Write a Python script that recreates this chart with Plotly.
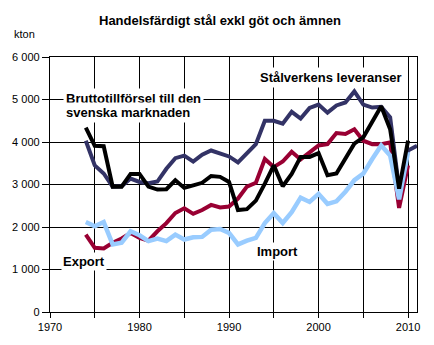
import plotly.graph_objects as go

years_lev = list(range(1974, 2012))
years = list(range(1974, 2011))

stalverkens = [4030, 3450, 3260, 2950, 2960, 3140, 3060, 3030, 3070, 3370,
               3620, 3680, 3540, 3700, 3800, 3730, 3660, 3520, 3740, 3950,
               4500, 4500, 4430, 4710, 4550, 4800, 4880, 4690, 4860, 4930,
               5190, 4880, 4810, 4830, 4580, 2900, 3800, 3910]
brutto = [4340, 3910, 3900, 2950, 2950, 3250, 3250, 2950, 2880, 2890,
          3100, 2920, 2980, 3040, 3200, 3180, 3060, 2400, 2420, 2620,
          3020, 3450, 2960, 3250, 3650, 3650, 3740, 3220, 3260, 3600,
          3960, 4110, 4460, 4840, 4300, 2900, 4030]
export = [1820, 1510, 1495, 1630, 1730, 1860, 1745, 1680, 1900, 2090,
          2330, 2440, 2310, 2400, 2520, 2460, 2480, 2670, 2950, 3040,
          3600, 3410, 3540, 3770, 3590, 3745, 3920, 3950, 4210, 4190,
          4300, 4030, 3950, 3950, 3990, 2450, 3450]
imp = [2116, 2015, 2116, 1590, 1630, 1900, 1806, 1667, 1730, 1667,
       1820, 1705, 1760, 1767, 1937, 1953, 1860, 1590, 1680, 1744,
       2093, 2326, 2093, 2350, 2690, 2590, 2780, 2545, 2605, 2830,
       3100, 3256, 3600, 3920, 3680, 2650, 3760]

x_tickvals = [1970, 1975, 1980, 1985, 1990, 1995, 2000, 2005, 2010]
x_ticktext = ["1970", "", "1980", "", "1990", "", "2000", "", "2010"]
y_tickvals = [0, 1000, 2000, 3000, 4000, 5000, 6000]
y_ticktext = ["0", "1 000", "2 000", "3 000", "4 000", "5 000", "6 000"]

FONT = "Liberation Sans, Arial, sans-serif"

fig = go.Figure()
fig.add_trace(go.Scatter(x=years_lev, y=stalverkens, mode="lines",
                         line=dict(color="#333366", width=4), name="Stålverkens leveranser"))
fig.add_trace(go.Scatter(x=years, y=export, mode="lines",
                         line=dict(color="#990033", width=4), name="Export"))
fig.add_trace(go.Scatter(x=years, y=imp, mode="lines",
                         line=dict(color="#99CCFF", width=4.5), name="Import"))
fig.add_trace(go.Scatter(x=years, y=brutto, mode="lines",
                         line=dict(color="#000000", width=4), name="Bruttotillförsel"))

fig.update_layout(
    width=434, height=345,
    margin=dict(l=49, r=17, t=57, b=30),
    paper_bgcolor="white", plot_bgcolor="white",
    showlegend=False,
    font=dict(family=FONT, size=11, color="black"),
    xaxis=dict(range=[1970, 2011], tickvals=x_tickvals, ticktext=x_ticktext,
               showgrid=True, gridcolor="black", gridwidth=1.3,
               showline=True, linecolor="black", linewidth=1.3, mirror=True,
               ticks="outside", ticklen=5, tickcolor="black", tickwidth=1.3,
               tickfont=dict(size=11, family=FONT), zeroline=False),
    yaxis=dict(range=[0, 6000], tickvals=y_tickvals, ticktext=y_ticktext,
               showgrid=True, gridcolor="black", gridwidth=1.3,
               showline=True, linecolor="black", linewidth=1.3, mirror=True,
               ticks="outside", ticklen=7, tickcolor="black", tickwidth=1.3,
               tickfont=dict(size=11, family=FONT), zeroline=False),
)

ann_font = dict(family=FONT, size=13, color="black")
fig.add_annotation(text="<b>Handelsfärdigt stål exkl göt och ämnen</b>",
                   xref="paper", yref="paper", x=(219.5 - 49) / 368, y=1 + (57 - 20) / 258,
                   showarrow=False, font=ann_font, xanchor="center", yanchor="middle")
fig.add_annotation(text="kton", xref="paper", yref="paper",
                   x=-(49 - 11) / 368, y=1 + (57 - 34) / 258, showarrow=False,
                   font=dict(family=FONT, size=11, color="black"),
                   xanchor="left", yanchor="middle")
fig.add_annotation(text="<b>Stålverkens leveranser</b>", x=2001.4, y=5510,
                   showarrow=False, font=ann_font, bgcolor="white",
                   xanchor="center", yanchor="middle", borderpad=2)
fig.add_annotation(text="<b>Bruttotillförsel till den</b>",
                   x=1971.4, y=5023, showarrow=False, font=ann_font, bgcolor="white",
                   xanchor="left", yanchor="middle", borderpad=2)
fig.add_annotation(text="<b>svenska marknaden</b>",
                   x=1971.4, y=4698, showarrow=False, font=ann_font, bgcolor="white",
                   xanchor="left", yanchor="middle", borderpad=2)
fig.add_annotation(text="<b>Export</b>", x=1971.2, y=1200, showarrow=False,
                   font=ann_font, bgcolor="white", xanchor="left", yanchor="middle",
                   borderpad=1)
fig.add_annotation(text="<b>Import</b>", x=1995.4, y=1420, showarrow=False,
                   font=ann_font, bgcolor="white", xanchor="center", yanchor="middle",
                   borderpad=1)

fig.write_html("out.html")
